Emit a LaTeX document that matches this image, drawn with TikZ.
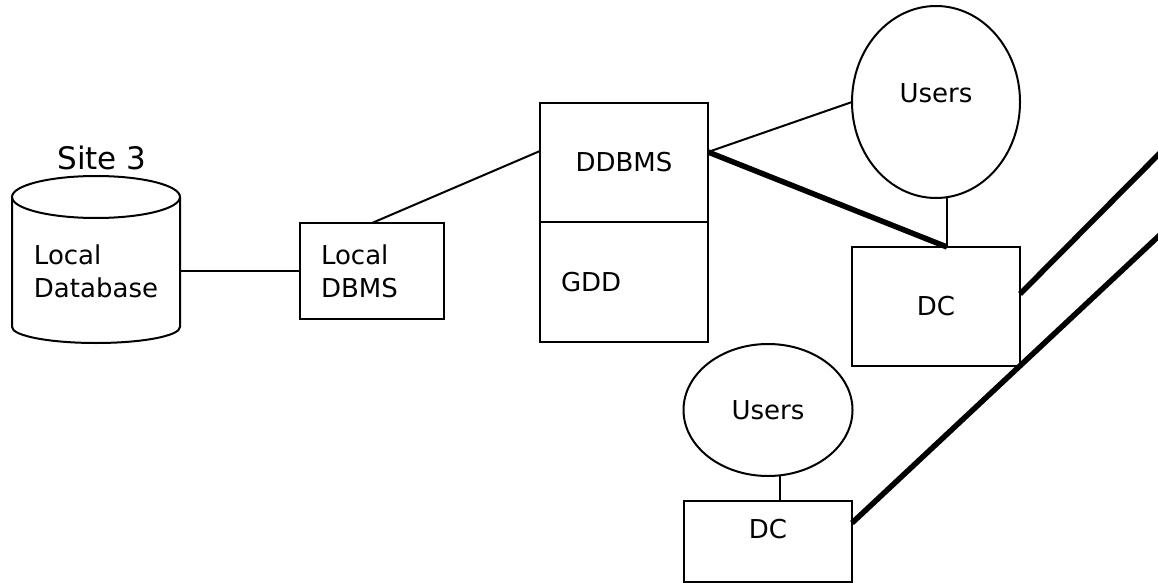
\documentclass[tikz,border=0pt]{standalone}
\usepackage{fontspec}
\setmainfont{DejaVu Sans}
\usetikzlibrary{positioning}
\usetikzlibrary{shapes.geometric}

\begin{document}
\begin{tikzpicture}[x=1pt,y=-1pt]

\tikzstyle{box}=[draw=black, line width=2pt, inner sep=0pt, outer sep=0pt, font=\fontsize{26}{33}\selectfont]
\tikzstyle{round}=[box, ellipse]
\tikzstyle{link}=[black, line width=2pt]
\tikzstyle{trunk}=[black, line width=5.5pt]

\useasboundingbox (0,0) rectangle (1158,583);

\node[font=\fontsize{31}{36}\selectfont] (site) at (102,158) {Site 3};
\draw[link] (12,197) -- (12,327) arc[start angle=180, end angle=360, x radius=84pt, y radius=16pt] -- (180,197);
\draw[link] (96,197) ellipse [x radius=84pt, y radius=21pt];
\node[align=left, inner sep=0pt, minimum width=168pt, font=\fontsize{26}{33}\selectfont] (db) at (96,271) {Local\\Database};

\node[box, minimum width=144pt, minimum height=96pt, text width=102pt, align=left] (ldbms) at (372,271) {Local\\DBMS};
\node[box, minimum width=168pt, minimum height=119pt] (ddbms) at (624,162.5) {DDBMS};
\node[box, minimum width=168pt, minimum height=120pt, text width=126pt, align=left, below=0pt of ddbms] (gdd) {GDD};

\node[round, minimum width=168pt, minimum height=192pt, text height=19pt, text depth=18pt] (users) at (936,102) {Users};
\node[box, minimum width=168pt, minimum height=119pt] (dc) at (936,306.5) {DC};
\node[round, minimum width=169pt, minimum height=132pt] (users2) at (768,410) {Users};
\node[box, minimum width=168pt, minimum height=81pt, text height=19pt, text depth=25pt] (dc2) at (768,541.5) {DC};

\coordinate (eA) at (1162,151);
\coordinate (eB) at (1162,233);

\draw[link] (db.east) -- (ldbms.west);
\draw[link] (ldbms.north) -- ([yshift=11.5pt]ddbms.west);
\draw[link] ([yshift=10.5pt]ddbms.east) -- (users.west);
\draw[trunk] ([yshift=10.5pt]ddbms.east) -- ([xshift=11pt]dc.north);
\draw[link] ([xshift=11pt]dc.north) -- ([xshift=11pt]dc.north |- users.south);
\draw[trunk] ([yshift=12.5pt]dc.east) -- (eA);
\draw[trunk] ([yshift=18.5pt]dc2.east) -- (eB);
\draw[link] ([xshift=12pt]dc2.north) -- ([xshift=12pt]dc2.north |- users2.south);
\end{tikzpicture}
\end{document}
